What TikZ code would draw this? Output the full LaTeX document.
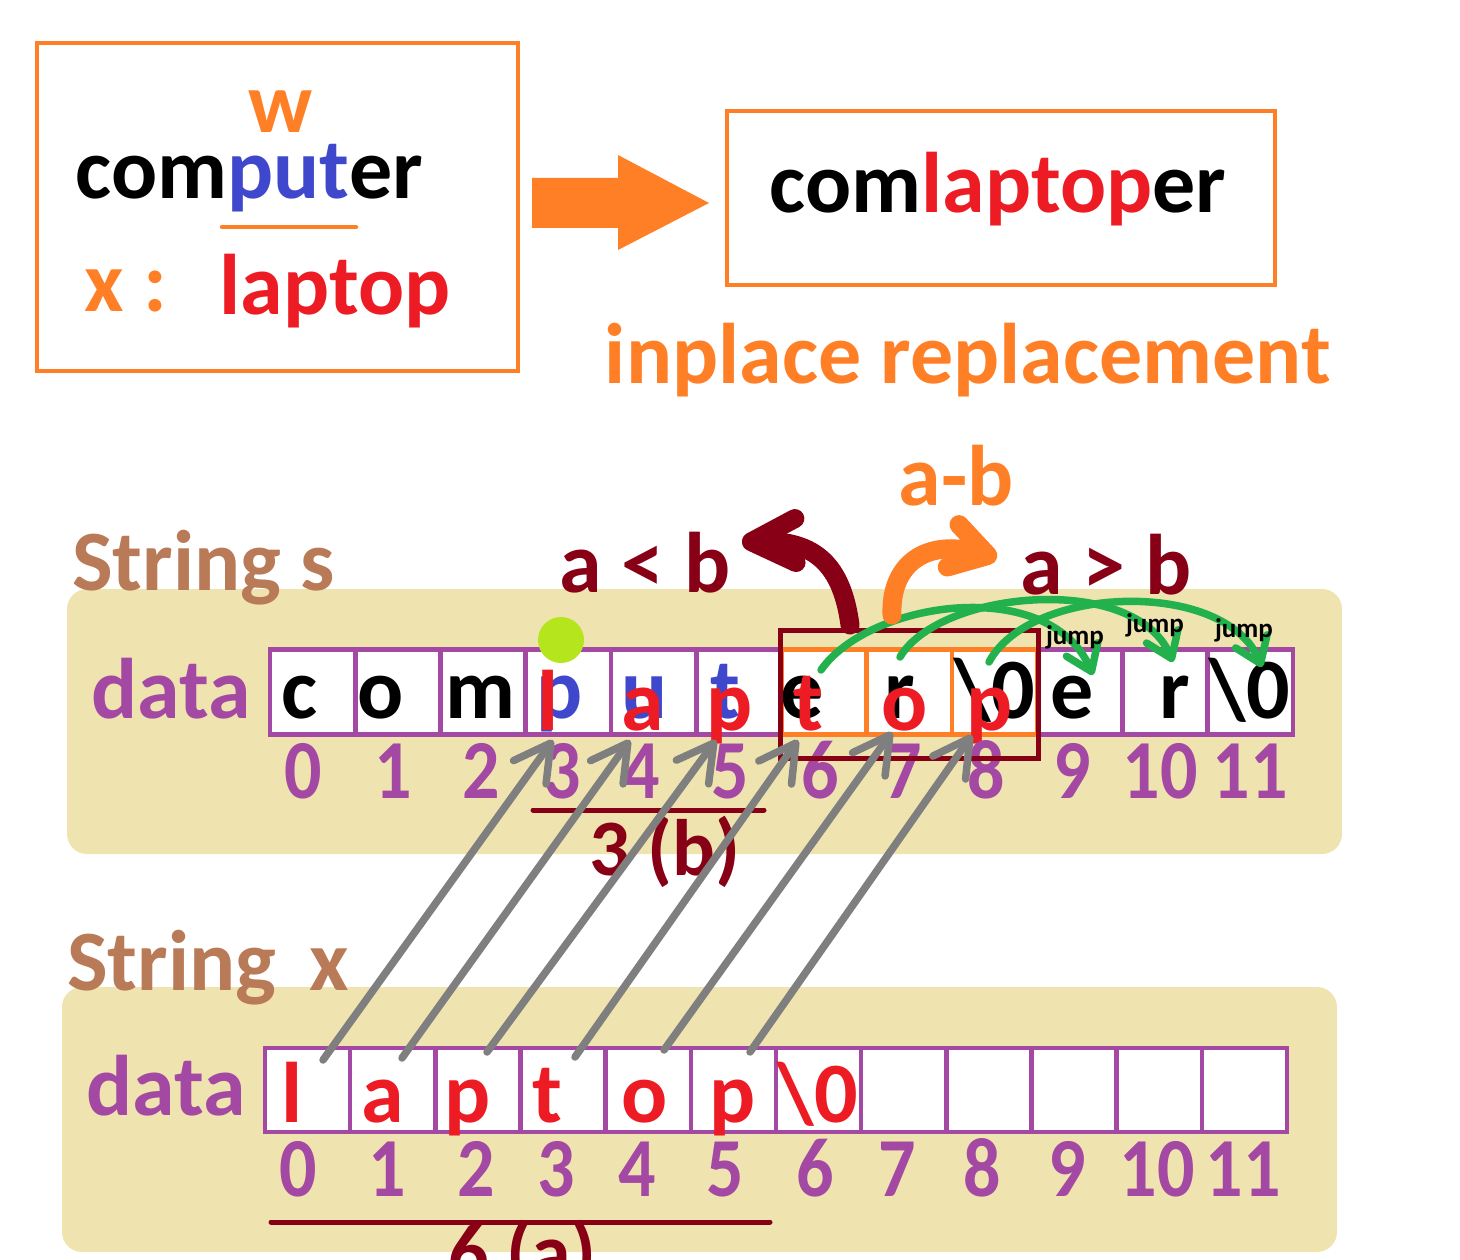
\documentclass[tikz,border=0pt]{standalone}
\usepackage{fontspec}
\setmainfont{Carlito}
\usetikzlibrary{arrows.meta}
\definecolor{cOrange}{RGB}{255,127,39}
\definecolor{cRed}{RGB}{237,28,36}
\definecolor{cBlue}{RGB}{63,72,204}
\definecolor{cPurple}{RGB}{163,73,164}
\definecolor{cBrown}{RGB}{185,122,87}
\definecolor{cBeige}{RGB}{239,228,176}
\definecolor{cDark}{RGB}{136,0,21}
\definecolor{cGray}{RGB}{127,127,127}
\definecolor{cLime}{RGB}{181,230,29}
\definecolor{cGreen}{RGB}{34,177,76}
\newcommand\fsz[1]{\fontsize{#1}{#1}\selectfont\bfseries}
\newcommand\nrw[1]{\scalebox{0.88}[1]{#1}}
\begin{document}
\begin{tikzpicture}[x=1pt,y=-1pt,
  txt/.style={inner sep=0pt, anchor=base},
  big/.style={txt, font=\fsz{86}},
  idx/.style={txt, font=\fsz{84}, text=cPurple},
  cell/.style={draw=cPurple, fill=white, line width=4.5pt, minimum width=85.2pt, minimum height=85pt, inner sep=0pt},
  hot/.style={cell, draw=cOrange},
  graya/.style={draw=cGray, line width=7.5pt, line cap=round, -{Straight Barb[length=36pt,width=40pt,round]}},
  greena/.style={draw=cGreen, line width=7.5pt, line cap=round, -{Straight Barb[length=24pt,width=34pt,round]}},
  frame/.style={draw=cOrange, line width=4.5pt, inner sep=0pt},
  brush/.style={line width=19pt, line cap=round, line join=round},
  jumplbl/.style={font=\fsz{27}, inner sep=0pt},
]
\useasboundingbox (0,0) rectangle (1460,1260);

% ---------- top part ----------
\node[frame, minimum width=481pt, minimum height=328pt] (leftbox) at (277.5,207) {};
\node[big, text=cOrange] (w) at (281,133) {w};
\node[big] (computer) at (249.5,199) {com\textcolor{cBlue}{put}er};
\draw[cOrange, line width=4.5pt, line cap=round] (222,227) -- (356,227);
\node[big, text=cOrange] (xcolon) at (126,312) {x :};
\node[big, text=cRed] (laptop) at (335,315) {laptop};

\fill[cOrange] (532,178) -- (618,178) -- (618,155) -- (709,203) -- (618,250) -- (618,228) -- (532,228) -- cycle;

\node[frame, minimum width=548pt, minimum height=174pt] (rightbox) at (1001,198) {};
\node[big] (result) at (998,213) {com\textcolor{cRed}{laptop}er};
\node[big, text=cOrange] (inplace) at (968,383) {inplace replacement};

% ---------- String s ----------
\fill[cBeige, rounded corners=20pt] (67,589) rectangle (1342,854);
\node[big, text=cBrown, anchor=base west] (strs) at (72,590) {String s};
\node[big, text=cPurple] (datas) at (171,718) {data};

\foreach \i in {0,...,11} {
  \node[cell] (s\i) at ({312.6+85.25*\i},692) {};
}
\foreach \i in {6,7,8} {
  \node[hot] (h\i) at ({312.6+85.25*\i},692) {};
}

\node[big] (sc0) at (299,718) {c};
\node[big] (sc1) at (381,718) {o};
\node[big] (sc2) at (480,718) {m};
\node[big, text=cBlue] (sc3) at (560,718) {p};
\node[big, text=cBlue] (sc4) at (645,718) {u};
\node[big, text=cBlue] (sc5) at (725,718) {t};
\node[big] (sc6) at (802,718) {e};
\node[big] (sc7) at (900,718) {r};
\node[big] (sc8) at (995,718) {\textbackslash0};
\node[big] (sc9) at (1072,718) {e};
\node[big] (sc10) at (1175,718) {r};
\node[big] (sc11) at (1250,718) {\textbackslash0};

\node[big, text=cRed] (sr3) at (548,730) {l};
\node[big, text=cRed] (sr4) at (643,730) {a};
\node[big, text=cRed] (sr5) at (730,730) {p};
\node[big, text=cRed] (sr6) at (808,730) {t};
\node[big, text=cRed] (sr7) at (905,730) {o};
\node[big, text=cRed] (sr8) at (990,730) {p};

\node[idx] (si0) at (303,798) {\nrw{0}};
\node[idx] (si1) at (393,798) {\nrw{1}};
\node[idx] (si2) at (481,798) {\nrw{2}};
\node[idx] (si3) at (562,798) {\nrw{3}};
\node[idx] (si4) at (641,798) {\nrw{4}};
\node[idx] (si5) at (730,798) {\nrw{5}};
\node[idx] (si6) at (820,798) {\nrw{6}};
\node[idx] (si7) at (903,798) {\nrw{7}};
\node[idx] (si8) at (986,798) {\nrw{8}};
\node[idx] (si9) at (1072,798) {\nrw{9}};
\node[idx] (si10) at (1160,798) {\nrw{10}};
\node[idx] (si11) at (1250,798) {\nrw{11}};

\draw[cDark, line width=5pt] (780,630) rectangle (1038,758);

\draw[cDark, line width=5pt, line cap=round] (533,810) -- (764,810);
\node[txt, font=\fsz{80}, text=cDark] (threeb) at (665,875) {3 (b)};

\node[big, text=cDark] (altb) at (645,592) {a < b};
\node[big, text=cDark] (agtb) at (1106,594) {a > b};
\node[big, text=cOrange] (amb) at (956,505) {a-b};

% ---------- String x ----------
\fill[cBeige, rounded corners=20pt] (62,987) rectangle (1337,1252);
\node[big, text=cBrown, anchor=base west] (strx) at (67,990) {String\hspace{0.38em}x};
\node[big, text=cPurple] (datax) at (166,1115) {data};

\foreach \i in {0,...,11} {
  \node[cell, minimum height=84pt] (x\i) at ({307.6+85.17*\i},1090) {};
}
\node[big, text=cRed] (xc0) at (292,1122) {l};
\node[big, text=cRed] (xc1) at (383,1122) {a};
\node[big, text=cRed] (xc2) at (468,1122) {p};
\node[big, text=cRed] (xc3) at (547,1122) {t};
\node[big, text=cRed] (xc4) at (645,1122) {o};
\node[big, text=cRed] (xc5) at (733,1122) {p};
\node[big, text=cRed] (xc6) at (818,1122) {\textbackslash0};

\node[idx] (xi0) at (298,1196) {\nrw{0}};
\node[idx] (xi1) at (387,1196) {\nrw{1}};
\node[idx] (xi2) at (476,1196) {\nrw{2}};
\node[idx] (xi3) at (556,1196) {\nrw{3}};
\node[idx] (xi4) at (637,1196) {\nrw{4}};
\node[idx] (xi5) at (725,1196) {\nrw{5}};
\node[idx] (xi6) at (815,1196) {\nrw{6}};
\node[idx] (xi7) at (897,1196) {\nrw{7}};
\node[idx] (xi8) at (982,1196) {\nrw{8}};
\node[idx] (xi9) at (1067,1196) {\nrw{9}};
\node[idx] (xi10) at (1157,1196) {\nrw{10}};
\node[idx] (xi11) at (1243,1196) {\nrw{11}};

\draw[cDark, line width=5pt, line cap=round] (271,1222) -- (770,1222);
\node[txt, font=\fsz{80}, text=cDark] (sixa) at (522,1279) {6 (a)};

% ---------- gray copy arrows ----------
\coordinate (g0s) at (323,1060); \coordinate (g0e) at (553,740);
\coordinate (g1s) at (402,1058); \coordinate (g1e) at (630,740);
\coordinate (g2s) at (487,1052); \coordinate (g2e) at (716,740);
\coordinate (g3s) at (575,1057); \coordinate (g3e) at (798,740);
\coordinate (g4s) at (664,1050); \coordinate (g4e) at (892,732);
\coordinate (g5s) at (750,1052); \coordinate (g5e) at (972,735);
\foreach \k in {0,...,5} { \draw[graya] (g\k s) -- (g\k e); }

% ---------- green jump arrows ----------
\coordinate (j1s) at (821,670); \coordinate (j1e) at (1093,675);
\coordinate (j2s) at (900,657); \coordinate (j2e) at (1173,662);
\coordinate (j3s) at (989,662); \coordinate (j3e) at (1262,667);
\draw[greena] (j1s) .. controls (870,600) and (1050,575) .. (j1e);
\draw[greena] (j2s) .. controls (940,590) and (1135,572) .. (j2e);
\draw[greena] (j3s) .. controls (1030,585) and (1225,578) .. (j3e);
\node[jumplbl] (jump1) at (1075,637) {jump};
\node[jumplbl] (jump2) at (1155,625) {jump};
\node[jumplbl] (jump3) at (1244,630) {jump};

% ---------- thick curved arrows ----------
\coordinate (dks) at (850,625); \coordinate (dke) at (742,542);
\draw[brush, cDark, -{Straight Barb[length=44pt,width=44pt,round]}] (dks) .. controls (842,565) and (815,540) .. (dke);
\coordinate (ors) at (892,615); \coordinate (ore) at (997,558);
\draw[brush, cOrange, -{Straight Barb[length=36pt,width=44pt,round]}] (ors) .. controls (890,565) and (925,538) .. (ore);

% ---------- lime marker ----------
\fill[cLime] (561,640) circle[radius=23pt];
\end{tikzpicture}
\end{document}
